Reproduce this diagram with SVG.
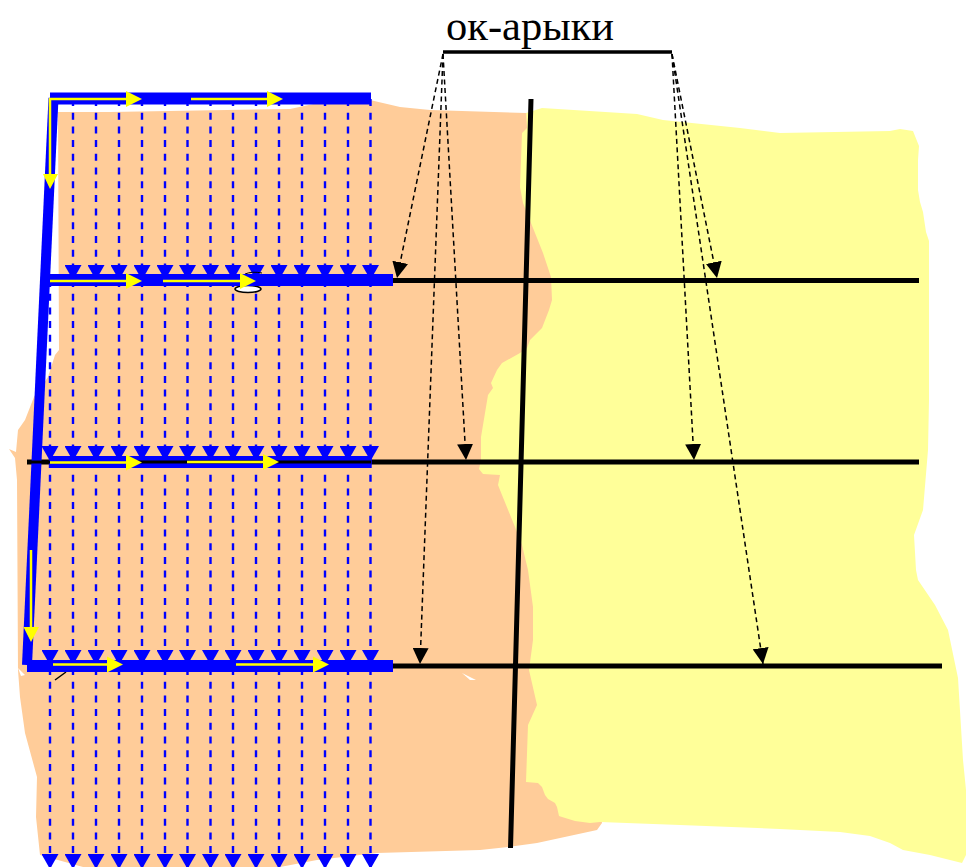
<svg xmlns="http://www.w3.org/2000/svg" width="966" height="867" viewBox="0 0 966 867">
<defs>
<style>
.bd{stroke:#0000ff;stroke-width:2.400;stroke-dasharray:7 6.700;fill:none}
.kd{stroke:#000;stroke-width:1.500;stroke-dasharray:5 3.500;fill:none}
.bar{stroke:#0000ff;stroke-width:12;fill:none}
.main{stroke:#0000ff;stroke-width:10;fill:none}
.yl{stroke:#ffff00;stroke-width:2.500;fill:none}
.blk{stroke:#000;stroke-width:5;fill:none}
.ya{fill:#ffff00}
text{font-family:"Liberation Serif","Times New Roman",serif;font-size:42.500px;fill:#000}
</style>
<marker id="bh" markerUnits="userSpaceOnUse" markerWidth="15" markerHeight="17" refX="15" refY="8.500" orient="auto"><path d="M0 0L15 8.500L0 17Z" fill="#0000ff"/></marker>
<marker id="kh" markerUnits="userSpaceOnUse" markerWidth="16" markerHeight="16" refX="16" refY="8" orient="auto"><path d="M0 0L16 8L0 16Z" fill="#000"/></marker>
</defs>
<g id="land-orange">
<path fill="#ffcc99" d="M41 106L45 130L58 112L110 112L290 109L318 103L370 100L400 107L430 110L526 113L560 125L590 700L602 823L597 830L537 843L508 847L480 850L377 853L317 860L280 867L83 867L40 855L36 817L37 777L25 733L20 697L18 670L17 480L15 458L9 449L16 452L18 430L25 420L34 397L48 377L55 355L59 350L58 112L45 130Z"/>
<path fill="#ffffff" d="M18 668L25 675L21 676ZM462 673L476 680L470 680Z"/>
</g>
<g id="land-yellow">
<path fill="#ffff99" d="M526 113L542 108L637 114L663 120L740 128L780 133L890 131L900 129L913 131L919 146L918 160L918 190L920 202L923 212L926 232L929 241L929 300L929 400L928 450L923 510L914 535L916 570L918 580L935 605L948 630L958 678L963 760L966 790L966 855L962 863L930 855L903 850L890 843L870 836L840 832L780 829L680 825L600 822L590 823L575 821L562 817L559 816L557 807L555 803L548 799L545 795L542 787L538 783L526 782L528 725L537 705L529 670L533 640L533 607L528 570L522 545L515 527L502 495L498 485L500 475L483 474L479 469L481 460L481 437L485 413L488 395L493 388L491 383L497 370L502 363L520 353L527 348L530 340L542 328L549 310L552 300L551 277L543 253L537 238L523 203L520 187L522 133L527 128Z"/>
</g>
<g id="connectors">
<path class="blk" d="M393 280.500H919M27 462H919"/>
<path class="blk" d="M393 666H942M531 99L510.500 848"/>
<path d="M443 52H672" stroke="#000" stroke-width="3.500" fill="none"/>
<path class="kd" d="M443 54L397 278" marker-end="url(#kh)"/>
<path class="kd" d="M443 54L420 664" marker-end="url(#kh)"/>
<path class="kd" d="M443 54L466 460" marker-end="url(#kh)"/>
<path class="kd" d="M672 54L717 278" marker-end="url(#kh)"/>
<path class="kd" d="M672 54L694 460" marker-end="url(#kh)"/>
<path class="kd" d="M672 54L763 664" marker-end="url(#kh)"/>
<g id="furrows-1">
<line class="bd" x1="73" y1="99" x2="73" y2="280" marker-end="url(#bh)"/><line class="bd" x1="96" y1="99" x2="96" y2="280" marker-end="url(#bh)"/><line class="bd" x1="119" y1="99" x2="119" y2="280" marker-end="url(#bh)"/><line class="bd" x1="142" y1="99" x2="142" y2="280" marker-end="url(#bh)"/><line class="bd" x1="165" y1="99" x2="165" y2="280" marker-end="url(#bh)"/><line class="bd" x1="187.500" y1="99" x2="187.500" y2="280" marker-end="url(#bh)"/><line class="bd" x1="210.500" y1="99" x2="210.500" y2="280" marker-end="url(#bh)"/><line class="bd" x1="233" y1="99" x2="233" y2="280" marker-end="url(#bh)"/><line class="bd" x1="256" y1="99" x2="256" y2="280" marker-end="url(#bh)"/><line class="bd" x1="279" y1="99" x2="279" y2="280" marker-end="url(#bh)"/><line class="bd" x1="302" y1="99" x2="302" y2="280" marker-end="url(#bh)"/><line class="bd" x1="325" y1="99" x2="325" y2="280" marker-end="url(#bh)"/><line class="bd" x1="348" y1="99" x2="348" y2="280" marker-end="url(#bh)"/><line class="bd" x1="370.500" y1="99" x2="370.500" y2="280" marker-end="url(#bh)"/>
</g>
<g id="furrows-2">
<line class="bd" x1="50" y1="280" x2="50" y2="461" marker-end="url(#bh)"/><line class="bd" x1="73" y1="280" x2="73" y2="461" marker-end="url(#bh)"/><line class="bd" x1="96" y1="280" x2="96" y2="461" marker-end="url(#bh)"/><line class="bd" x1="119" y1="280" x2="119" y2="461" marker-end="url(#bh)"/><line class="bd" x1="142" y1="280" x2="142" y2="461" marker-end="url(#bh)"/><line class="bd" x1="165" y1="280" x2="165" y2="461" marker-end="url(#bh)"/><line class="bd" x1="187.500" y1="280" x2="187.500" y2="461" marker-end="url(#bh)"/><line class="bd" x1="210.500" y1="280" x2="210.500" y2="461" marker-end="url(#bh)"/><line class="bd" x1="233" y1="280" x2="233" y2="461" marker-end="url(#bh)"/><line class="bd" x1="256" y1="280" x2="256" y2="461" marker-end="url(#bh)"/><line class="bd" x1="279" y1="280" x2="279" y2="461" marker-end="url(#bh)"/><line class="bd" x1="302" y1="280" x2="302" y2="461" marker-end="url(#bh)"/><line class="bd" x1="325" y1="280" x2="325" y2="461" marker-end="url(#bh)"/><line class="bd" x1="348" y1="280" x2="348" y2="461" marker-end="url(#bh)"/><line class="bd" x1="370.500" y1="280" x2="370.500" y2="461" marker-end="url(#bh)"/>
</g>
<g id="furrows-3">
<line class="bd" x1="50" y1="461" x2="50" y2="665" marker-end="url(#bh)"/><line class="bd" x1="73" y1="461" x2="73" y2="665" marker-end="url(#bh)"/><line class="bd" x1="96" y1="461" x2="96" y2="665" marker-end="url(#bh)"/><line class="bd" x1="119" y1="461" x2="119" y2="665" marker-end="url(#bh)"/><line class="bd" x1="142" y1="461" x2="142" y2="665" marker-end="url(#bh)"/><line class="bd" x1="165" y1="461" x2="165" y2="665" marker-end="url(#bh)"/><line class="bd" x1="187.500" y1="461" x2="187.500" y2="665" marker-end="url(#bh)"/><line class="bd" x1="210.500" y1="461" x2="210.500" y2="665" marker-end="url(#bh)"/><line class="bd" x1="233" y1="461" x2="233" y2="665" marker-end="url(#bh)"/><line class="bd" x1="256" y1="461" x2="256" y2="665" marker-end="url(#bh)"/><line class="bd" x1="279" y1="461" x2="279" y2="665" marker-end="url(#bh)"/><line class="bd" x1="302" y1="461" x2="302" y2="665" marker-end="url(#bh)"/><line class="bd" x1="325" y1="461" x2="325" y2="665" marker-end="url(#bh)"/><line class="bd" x1="348" y1="461" x2="348" y2="665" marker-end="url(#bh)"/><line class="bd" x1="370.500" y1="461" x2="370.500" y2="665" marker-end="url(#bh)"/>
</g>
<g id="furrows-4">
<line class="bd" x1="50" y1="668" x2="50" y2="869" marker-end="url(#bh)"/><line class="bd" x1="73" y1="668" x2="73" y2="869" marker-end="url(#bh)"/><line class="bd" x1="96" y1="668" x2="96" y2="869" marker-end="url(#bh)"/><line class="bd" x1="119" y1="668" x2="119" y2="869" marker-end="url(#bh)"/><line class="bd" x1="142" y1="668" x2="142" y2="869" marker-end="url(#bh)"/><line class="bd" x1="165" y1="668" x2="165" y2="869" marker-end="url(#bh)"/><line class="bd" x1="187.500" y1="668" x2="187.500" y2="869" marker-end="url(#bh)"/><line class="bd" x1="210.500" y1="668" x2="210.500" y2="869" marker-end="url(#bh)"/><line class="bd" x1="233" y1="668" x2="233" y2="869" marker-end="url(#bh)"/><line class="bd" x1="256" y1="668" x2="256" y2="869" marker-end="url(#bh)"/><line class="bd" x1="279" y1="668" x2="279" y2="869" marker-end="url(#bh)"/><line class="bd" x1="302" y1="668" x2="302" y2="869" marker-end="url(#bh)"/><line class="bd" x1="325" y1="668" x2="325" y2="869" marker-end="url(#bh)"/><line class="bd" x1="348" y1="668" x2="348" y2="869" marker-end="url(#bh)"/><line class="bd" x1="370.500" y1="668" x2="370.500" y2="869" marker-end="url(#bh)"/>
</g>
<ellipse cx="248" cy="289" rx="13" ry="3.500" fill="#fff" stroke="#000" stroke-width="1.500"/>
<path d="M245 274Q252 271 262 273" fill="none" stroke="#000" stroke-width="1"/>
<path d="M55 680L66 672" stroke="#000" stroke-width="1.500" fill="none"/>
<path class="main" d="M53.500 98L27 665"/>
<path class="bar" d="M50 98.500H371M50 280H393M50 462H371M27 666H393"/>
<path d="M27 462H50" stroke="#000" stroke-width="3" fill="none"/>
<path d="M126 462H371" stroke="#000" stroke-width="3" fill="none"/>
<g id="flow-arrows">
<path class="yl" d="M49 99H127M191 99H268M50 99V175M50 281H127M163 281H241M50 462.500H127M187 462H264M53 664.500H108M236 664.500H314M31 550V628"/>
<path class="ya" d="M126 91L142 99L126 107ZM267 91L283 99L267 107ZM43 174H58L50 189ZM126 273L142 281L126 289ZM240 273L256 281L240 289ZM126 454.500L142 462.500L126 470.500ZM263 454L279 462L263 470ZM107 656.500L123 664.500L107 672.500ZM313 656.500L329 664.500L313 672.500ZM23.500 627H39L31 642Z"/>
</g>
</g>
<g id="label"><text x="446" y="40">ок-арыки</text></g>
</svg>
